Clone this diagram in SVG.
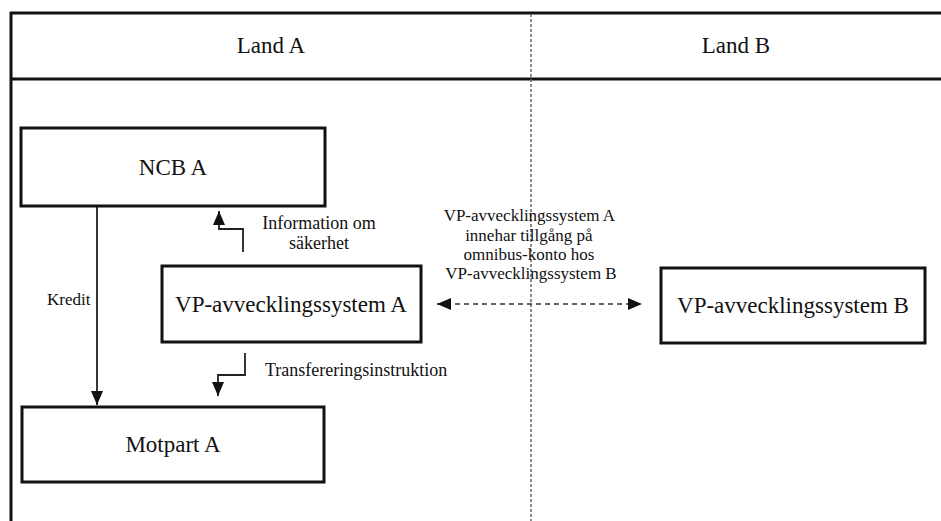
<svg xmlns="http://www.w3.org/2000/svg" width="941" height="521" viewBox="0 0 941 521">
  <style>
    .frame { stroke: #111; stroke-width: 3; fill: none; }
    .divider { stroke: #666; stroke-width: 1.5; stroke-dasharray: 3 2; fill: none; }
    .box { fill: #fff; stroke: #111; stroke-width: 3; }
    text { font-family: 'Liberation Serif', 'DejaVu Serif', serif; fill: #111; }
    .big { font-size: 23px; text-anchor: middle; }
    .small { font-size: 17px; }
    .lbl { font-size: 18px; }
    .conn { stroke: #222; stroke-width: 1.8; fill: none; }
    .dash { stroke: #333; stroke-width: 1.5; stroke-dasharray: 5 4; fill: none; }
  </style>
  <defs>
    <marker id="arr" viewBox="0 0 14 12" refX="14" refY="6" markerWidth="14" markerHeight="12" markerUnits="userSpaceOnUse" orient="auto-start-reverse">
      <path d="M0,0 L14,6 L0,12 z" fill="#111"/>
    </marker>
  </defs>
  <rect width="941" height="521" fill="#fff"/>

  <g id="frame">
    <line class="frame" x1="10" y1="13" x2="941" y2="13"/>
    <line class="frame" x1="10" y1="79" x2="941" y2="79"/>
    <line class="frame" x1="11" y1="12" x2="11" y2="521"/>
    <line class="divider" x1="531" y1="14" x2="531" y2="521"/>
    <text class="big" x="271" y="53">Land A</text>
    <text class="big" x="736" y="53">Land B</text>
  </g>

  <g id="connectors">
    <line class="conn" x1="97" y1="207" x2="97" y2="405" marker-end="url(#arr)"/>
    <path class="conn" d="M243,252 V229 H219 V211" marker-end="url(#arr)"/>
    <path class="conn" d="M245,353 V375 H218 V396" marker-end="url(#arr)"/>
    <line class="dash" x1="437" y1="304" x2="642" y2="304" marker-start="url(#arr)" marker-end="url(#arr)"/>
    <text class="small" x="47" y="305">Kredit</text>
    <text class="lbl" x="319" y="229" text-anchor="middle">Information om</text>
    <text class="lbl" x="319" y="249" text-anchor="middle">säkerhet</text>
    <text class="lbl" x="265" y="376">Transfereringsinstruktion</text>
    <text class="small" text-anchor="middle">
      <tspan x="531" y="221">VP-avvecklingssystem A</tspan>
      <tspan x="531" y="241">innehar tillgång på</tspan>
      <tspan x="531" y="260">omnibus-konto hos</tspan>
      <tspan x="531" y="279">VP-avvecklingssystem B</tspan>
    </text>
  </g>

  <g id="ncb-a">
    <rect class="box" x="21" y="128" width="304" height="78"/>
    <text class="big" x="173" y="175">NCB A</text>
  </g>
  <g id="vp-a">
    <rect class="box" x="162" y="266" width="259" height="76"/>
    <text class="big" x="291" y="312">VP-avvecklingssystem A</text>
  </g>
  <g id="vp-b">
    <rect class="box" x="661" y="268" width="264" height="75"/>
    <text class="big" x="793" y="313">VP-avvecklingssystem B</text>
  </g>
  <g id="motpart-a">
    <rect class="box" x="22" y="407" width="302" height="75"/>
    <text class="big" x="173" y="452">Motpart A</text>
  </g>
</svg>
